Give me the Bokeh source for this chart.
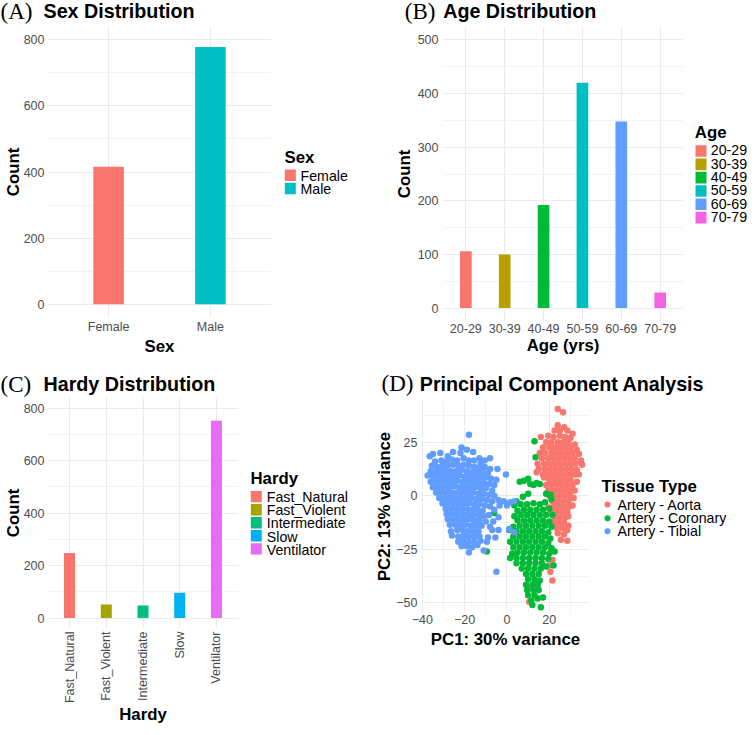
from math import pi
from bokeh.plotting import figure
from bokeh.models import FixedTicker, Range1d, ColumnDataSource
from bokeh.core.properties import value
from bokeh.layouts import column, row
from bokeh.embed import file_html
from bokeh.resources import INLINE

SANS = "Liberation Sans"
SERIF = "Liberation Serif"
TICK_COLOR = "#4D4D4D"
GRID = "#EBEBEB"

# ---------------- data ----------------
sex_cats = ["Female", "Male"]
sex_counts = [416, 778]
sex_colors = ["#F8766D", "#00BFC4"]

age_cats = ["20-29", "30-39", "40-49", "50-59", "60-69", "70-79"]
age_counts = [106, 100, 192, 420, 348, 29]
age_colors = ["#F8766D", "#B79F00", "#00BA38", "#00BFC4", "#619CFF", "#F564E3"]

hardy_cats = ["Fast_Natural", "Fast_Violent", "Intermediate", "Slow", "Ventilator"]
hardy_counts = [248, 51, 48, 96, 751]
hardy_colors = ["#F8766D", "#A3A500", "#00BF7D", "#00B0F6", "#E76BF3"]

tissue_names = ["Artery - Aorta", "Artery - Coronary", "Artery - Tibial"]
tissue_colors = ["#F8766D", "#00BA38", "#619CFF"]

aorta_points = [
    (24, 40.5), (26.5, 39), (24, 33), (27, 32), (22.5, 30.5), (25, 30.5), (28.5, 30.5), (31, 29),
    (16, 27.5), (19.5, 28), (22, 27.5), (25, 28), (27.5, 27.5), (30, 27),
    (18.5, 25), (21, 25), (24, 25), (26.5, 25), (29, 25), (32, 24),
    (17, 22.5), (20, 22.5), (22.5, 22.5), (25, 22.5), (27.5, 22.5), (30, 22.5), (33, 21.5),
    (15.5, 20), (18, 20), (21, 20), (23.5, 20), (26, 20), (28.5, 20), (31, 20), (34, 19.5),
    (16.5, 17.5), (19.5, 17.5), (22, 17.5), (24.5, 17.5), (27, 17.5), (29.5, 17.5), (32, 17.5), (35, 16.5),
    (14.5, 15), (17.5, 15), (20, 15), (22.5, 15), (25, 15), (27.5, 15), (30, 15), (32.5, 15), (35.5, 14.5),
    (15, 12.5), (18, 12.5), (20.5, 12.5), (23, 12.5), (25.5, 12.5), (28, 12.5), (30.5, 12.5), (33, 12),
    (14, 11), (17, 10), (19.5, 10), (22, 10), (24.5, 10), (27, 10), (29.5, 10), (32, 10), (34, 10),
    (17.5, 8.5), (20, 7.5), (22.5, 7.5), (25, 7.5), (27.5, 7.5), (30, 7.5), (33, 6.5),
    (18.5, 5), (21, 5), (23.5, 5), (26, 5), (28.5, 5), (31, 5),
    (19.5, 2.5), (22, 2.5), (24.5, 2.5), (27, 2.5), (29.5, 2.5), (32, 2.5),
    (20, 0), (22.5, 0), (25, 0), (27.5, 0), (30, 0), (31.5, -1),
    (21.5, -2.5), (24, -2.5), (26.5, -2.5), (29, -2.5),
    (19.5, -5.5), (22, -5), (24.5, -5), (27, -5), (29.5, -5), (31, -4.5),
    (21, -7.5), (23.5, -7.5), (26, -7.5), (28.5, -7.5),
    (22.5, -10), (25, -10), (27.5, -10), (29, -9.5),
    (22, -12.5), (24.5, -12.5), (27, -12.5), (29, -14),
    (23.5, -15), (26, -15), (28.5, -16), (24, -17.5), (27, -18), (25.5, -20.5), (28.5, -21),
    (21.5, -30), (20, -32.5), (20.5, -35.5), (21.5, -39.5), (10, -43), (10.5, -49.5),
]

coronary_points = [
    (13, 25.5), (13.5, 18),
    (6, 6.5), (8, 7), (10, 8), (11, 5.5), (12.5, 5), (14, 6), (15.5, 5.5),
    (18.5, 1), (20.5, 0.5), (21, -1.5), (7.5, -0.5), (10, 1), (4.5, -2.5), (3.5, -4.5),
    (6.5, -4), (9.5, -4), (12.5, -3.5), (15.5, -4), (18, -3),
    (5, -7), (8, -6.5), (11, -6.5), (14, -6.5), (17, -6.5), (20, -6),
    (3.5, -9.5), (6.5, -9), (9.5, -9), (12.5, -9), (15.5, -9), (18.5, -9), (21.5, -9),
    (5, -11.5), (8, -11.5), (11, -11.5), (14, -11.5), (17, -11.5), (20, -12),
    (3, -14.5), (6, -14), (9, -14), (12, -14), (15, -14), (18, -14), (21, -14.5),
    (1, -16), (4.5, -16.5), (7.5, -16.5), (10.5, -16.5), (13.5, -16.5), (16.5, -16.5), (19.5, -17),
    (3, -19), (6, -19), (9, -19), (12, -19), (15, -19), (18, -19), (20.5, -20),
    (1.5, -21.5), (4.5, -21.5), (7.5, -21.5), (10.5, -21.5), (13.5, -21.5), (16.5, -21.5), (19.5, -22),
    (3, -24), (6, -24), (9, -24), (12, -24), (15, -24), (18, -24), (21, -24.5),
    (2.5, -27), (5, -26.5), (8, -26.5), (11, -26.5), (14, -26.5), (17, -26.5), (20, -27), (22.5, -26),
    (1.5, -29), (4.5, -29), (7.5, -29), (10.5, -29), (13.5, -29), (16.5, -29), (19.5, -29.5),
    (4.5, -31.5), (7.5, -31.5), (10.5, -31.5), (13.5, -31.5), (16.5, -31.5), (22, -32.5),
    (7, -34), (10, -34), (13, -34), (16, -34), (18.5, -33),
    (9, -36.5), (12, -36.5), (15, -36.5), (10, -39), (13, -39), (15.5, -39.5),
    (9, -41.5), (12, -41.5), (14.5, -41.5), (9.5, -44), (12.5, -44), (15, -44),
    (10, -46.5), (13, -46.5), (11.5, -49), (14.5, -48), (17, -47.5), (12, -51), (16, -52),
    (-9.5, -26), (-6, -8),
]

tibial_points = [
    (-18, 28.5), (-21.5, 22.5), (-19, 21.5), (-22, 20), (-16, 20.5), (-25.5, 20.5), (-31.5, 20),
    (-35, 19.5), (-36.5, 18.5), (-28, 18.5), (-13, 17.5), (-8, 17.5), (-10.5, 16.5),
    (-34, 16), (-31, 16.5), (-28.5, 16), (-26, 17), (-23.5, 16.5), (-20.5, 17.5), (-18, 16.5), (-15.5, 16.5), (-12.5, 15),
    (-35.5, 14), (-33, 13.5), (-30.5, 14), (-28, 14), (-25.5, 14.5), (-23, 14), (-20.5, 14.5), (-18, 14),
    (-15.5, 13.5), (-13, 13), (-10.5, 13.5), (-8, 12.5),
    (-36, 11.5), (-34, 11), (-31.5, 11.5), (-29, 11.5), (-26.5, 11.5), (-24, 11.5), (-21.5, 12), (-19, 11.5),
    (-16.5, 11), (-14, 11), (-11.5, 11), (-9, 10.5), (-4.5, 12.5),
    (-37.5, 9.5), (-35, 9), (-32.5, 9), (-30, 9), (-27.5, 9), (-25, 9), (-22.5, 9.5), (-20, 9), (-17.5, 9),
    (-15, 8.5), (-12.5, 8.5), (-10, 8.5), (-7.5, 8), (-0.5, 10), (-5, 7.5),
    (-36, 6.5), (-33.5, 6.5), (-31, 6.5), (-28.5, 6.5), (-26, 6.5), (-23.5, 7), (-21, 6.5), (-18.5, 6.5),
    (-16, 6.5), (-13.5, 6), (-11, 6), (-8.5, 5.5), (-6, 5),
    (-35, 4), (-32.5, 4), (-30, 4), (-27.5, 4), (-25, 4.5), (-22.5, 4), (-20, 4), (-17.5, 4), (-15, 4),
    (-12.5, 3.5), (-10, 3.5), (-7, 2.5),
    (-33.5, 1.5), (-31, 1.5), (-28.5, 1.5), (-26, 1.5), (-23.5, 1.5), (-21, 1.5), (-18.5, 1.5), (-16, 1.5),
    (-13.5, 1), (-11, 1), (-8.5, 0.5), (-6, 0),
    (-32, -1), (-29.5, -1), (-27, -1), (-24.5, -1), (-22, -1), (-19.5, -1), (-17, -1), (-14.5, -1.5),
    (-12, -1.5), (-9.5, -2), (-7, -2.5), (-4, -2), (-1.5, -2.5), (1.5, -3), (3.5, -2.5), (0, -4.5),
    (-30.5, -3.5), (-28, -3.5), (-25.5, -3.5), (-23, -3.5), (-20.5, -3.5), (-18, -3.5), (-15.5, -4),
    (-13, -4), (-10.5, -4.5), (-8, -5), (-3.5, -4.5),
    (-29, -6), (-26.5, -6), (-24, -6), (-21.5, -6), (-19, -6), (-16.5, -6.5), (-14, -6.5), (-11.5, -7), (-6, -6.5),
    (-28.5, -8.5), (-26, -8.5), (-23.5, -8.5), (-21, -8.5), (-18.5, -8.5), (-16, -9), (-13.5, -9), (-11, -9.5),
    (-8.5, -9), (-4, -10),
    (-28, -11), (-25.5, -11), (-23, -11), (-20.5, -11), (-18, -11), (-15.5, -11.5), (-13, -11.5), (-10, -12), (-6.5, -12),
    (-27, -13.5), (-24.5, -13.5), (-22, -13.5), (-19.5, -13.5), (-17, -14), (-14.5, -14), (-12, -14), (-8, -14.5),
    (-26.5, -16.5), (-23.5, -16), (-21, -16), (-18.5, -16.5), (-16, -16.5), (-13.5, -16.5), (-7, -16), (-4, -16),
    (1, -15.5), (3.5, -17),
    (-26, -18.5), (-23, -19), (-20.5, -18.5), (-18, -19), (-15.5, -19), (-13, -19), (-9, -19.5), (-5.5, -19.5),
    (-23, -21.5), (-20.5, -21), (-18, -21.5), (-15.5, -21.5), (-12.5, -21), (-9.5, -21.5),
    (-21.5, -23.5), (-19, -23.5), (-16.5, -24), (-14, -23),
    (-18, -26.5), (-11, -25.5), (-5, -35.5),
]

tissue_points = [aorta_points, coronary_points, tibial_points]

TITLE = 19.7
AXT = 16.8
LEG = 14.2
TAG = 23


# ---------------- helpers ----------------
def blank_fig(w, h, x0, y_top, t=0, b=0):
    """Figure without axes; its frame maps 1:1 onto reference pixel coordinates."""
    fh = h - t - b
    p = figure(width=w, height=h, x_range=Range1d(x0, x0 + w), y_range=Range1d(y_top + fh, y_top),
               x_axis_type=None, y_axis_type=None, output_backend="svg",
               toolbar_location=None, tools="", min_border=0,
               min_border_left=0, min_border_right=0, min_border_top=t, min_border_bottom=b)
    p.outline_line_color = None
    p.background_fill_color = "white"
    p.border_fill_color = "white"
    return p


def put_text(p, xs, baselines, texts, size, style="normal", font=SANS, color="black", k=0.35):
    # anchored at the vertical middle of the text, placed from the wanted baseline
    ys = [b - k * size for b in baselines]
    p.text(x=xs, y=ys, text=texts, text_font=value(font), text_font_size=value(f"{size}px"),
           text_font_style=value(style), text_color=value(color),
           text_align=value("left"), text_baseline=value("middle"))


def title_fig(w, h, x0, y_top, tag, tag_x, tag_b, title, title_x, title_b):
    p = blank_fig(w, h, x0, y_top)
    put_text(p, [tag_x], [tag_b], [tag], TAG, font=SERIF, k=0.34)
    put_text(p, [title_x], [title_b], [title], TITLE, style="bold")
    return p


def key_legend_fig(w, h, x0, y_top, t, b, title, tx, tb, labels, colors, kx, ky0, step, lx, lb0):
    p = blank_fig(w, h, x0, y_top, t, b)
    put_text(p, [tx], [tb], [title], AXT, style="bold")
    n = len(labels)
    p.rect(x=[kx] * n, y=[ky0 + step * i for i in range(n)], width=11, height=11.6,
           fill_color=colors, line_color=None)
    put_text(p, [lx] * n, [lb0 + step * i for i in range(n)], labels, LEG)
    return p


def chart_fig(w, h, l, r, t, b, xr, yr):
    p = figure(width=w, height=h, min_border_left=l, min_border_right=r,
               min_border_top=t, min_border_bottom=b,
               x_range=Range1d(*xr), y_range=Range1d(*yr),
               output_backend="svg", toolbar_location=None, tools="")
    p.outline_line_color = None
    p.background_fill_color = "white"
    p.border_fill_color = "white"
    for ax in p.axis:
        ax.axis_line_color = None
        ax.major_tick_line_color = None
        ax.minor_tick_line_color = None
        ax.major_tick_out = 0
        ax.major_tick_in = 0
        ax.minor_tick_out = 0
        ax.minor_tick_in = 0
        ax.major_label_text_font = SANS
        ax.major_label_text_font_size = "12.5px"
        ax.major_label_text_color = TICK_COLOR
        ax.axis_label_text_font = SANS
        ax.axis_label_text_font_size = f"{AXT}px"
        ax.axis_label_text_font_style = "bold"
        ax.axis_label_text_color = "black"
    p.xaxis.major_label_standoff = 2
    p.grid.grid_line_color = GRID
    p.grid.grid_line_width = 1
    p.grid.minor_grid_line_color = GRID
    p.grid.minor_grid_line_width = 0.6
    return p


def bar_chart(cats, counts, colors, w, h, l, r, t, b, ymax, yticks, yminor, xlabel):
    n = len(cats)
    p = chart_fig(w, h, l, r, t, b, (0.4, n + 0.6), (-0.05 * ymax, 1.05 * ymax))
    xs = list(range(1, n + 1))
    src = ColumnDataSource(dict(x=xs, top=counts, color=colors))
    p.vbar(x="x", top="top", width=0.3, bottom=0, fill_color="color", line_color=None, source=src)
    p.xaxis.ticker = FixedTicker(ticks=xs, minor_ticks=[])
    p.xaxis.major_label_overrides = {x: c for x, c in zip(xs, cats)}
    p.yaxis.ticker = FixedTicker(ticks=yticks, minor_ticks=yminor)
    p.xaxis.axis_label = xlabel
    p.yaxis.axis_label = "Count"
    return p


# ---------------- left column ----------------
tA = title_fig(372, 25, 3, 2, "(A)", 3, 20.5, "Sex Distribution", 46, 19.3)

cA = bar_chart(sex_cats, sex_counts, sex_colors, 275, 333, 43, 4, 1, 37,
               800, [0, 200, 400, 600, 800], [100, 300, 500, 700], "Sex")
cA.yaxis.major_label_standoff = 3
cA.yaxis.axis_label_standoff = -2
cA.xaxis.axis_label_standoff = 0
lA = key_legend_fig(97, 333, 278, 28, 1, 37, "Sex", 287, 166.7, sex_cats, sex_colors,
                    292.8, 178.8, 13.33, 303, 184.3)

tC = title_fig(372, 39, 3, 363, "(C)", 3, 397, "Hardy Distribution", 46, 395)

cC = bar_chart(hardy_cats, hardy_counts, hardy_colors, 241, 330, 43, 3, 0, 94,
               800, [0, 200, 400, 600, 800], [100, 300, 500, 700], "Hardy")
cC.yaxis.major_label_standoff = 3
cC.yaxis.axis_label_standoff = -2
cC.xaxis.major_label_orientation = pi / 2
cC.xaxis.major_label_standoff = 3
cC.xaxis.axis_label_standoff = -1
lC = key_legend_fig(131, 330, 244, 402, 0, 94, "Hardy", 253, 490.7, hardy_cats, hardy_colors,
                    258.8, 503.3, 13.33, 269.3, 509)

# ---------------- right column ----------------
tB = title_fig(375, 25, 378, 2, "(B)", 410.3, 20.5, "Age Distribution", 448.7, 19.3)

cB = bar_chart(age_cats, age_counts, age_colors, 314, 333, 70, 3, 1, 37,
               500, [0, 100, 200, 300, 400, 500], [50, 150, 250, 350, 450], "Age (yrs)")
cB.yaxis.major_label_standoff = 4
cB.yaxis.axis_label_standoff = 1
cB.xaxis.axis_label_standoff = 0
lB = key_legend_fig(61, 333, 692, 28, 1, 37, "Age", 700.3, 140, age_cats, age_colors,
                    706.5, 152.5, 13.33, 716.3, 156.7)

tD = title_fig(375, 39, 378, 363, "(D)", 387, 396, "Principal Component Analysis", 425.3, 395)

cD = chart_fig(220, 330, 47, 3, 3, 115, (-40.4, 39.0), (-54.5, 44.5))
cD.xaxis.ticker = FixedTicker(ticks=[-40, -20, 0, 20], minor_ticks=[-30, -10, 10, 30])
cD.yaxis.ticker = FixedTicker(ticks=[-50, -25, 0, 25], minor_ticks=[-37.5, -12.5, 12.5, 37.5])
cD.yaxis.major_label_standoff = 4
cD.yaxis.axis_label_standoff = -1
cD.xaxis.axis_label_standoff = 3
cD.xaxis.axis_label = "PC1: 30% variance"
cD.yaxis.axis_label = "PC2: 13% variance"
for pts, col in zip(tissue_points, tissue_colors):
    cD.scatter([q[0] for q in pts], [q[1] for q in pts], size=6.5, fill_color=col, line_color=None)

lD = blank_fig(155, 330, 598, 405, 3, 115)
put_text(lD, [607], [496.7], ["Tissue Type"], AXT, style="bold")
lD.scatter(x=[613, 613, 613], y=[509, 522.7, 535.7], size=6, fill_color=tissue_colors, line_color=None)
put_text(lD, [623, 623, 623], [514, 527.3, 540.6], tissue_names, LEG)

left = column(tA, row(cA, lA), tC, row(cC, lC))
right = column(tB, row(cB, lB), tD, row(cD, lD))
layout = row(left, right)
open("out.html", "w").write(file_html(layout, INLINE))
